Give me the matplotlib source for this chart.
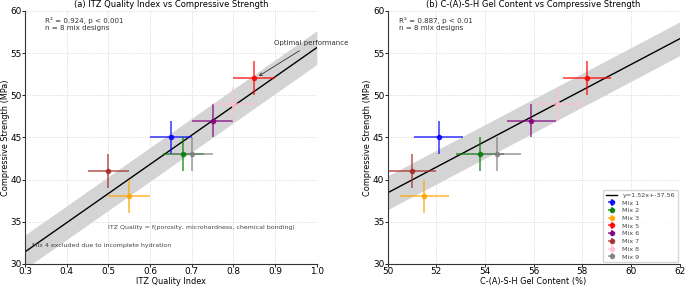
import numpy as np
import matplotlib
matplotlib.use('Agg')
import matplotlib.pyplot as plt

# mix designs (Mix 4 excluded)
mixes = ['Mix 1', 'Mix 2', 'Mix 3', 'Mix 5', 'Mix 6', 'Mix 7', 'Mix 8', 'Mix 9']
colors = ['blue', 'green', 'orange', 'red', 'purple', 'brown', 'pink', 'gray']
strength = [45, 43, 38, 52, 47, 41, 49, 43]
strength_err = [2, 2, 2, 2, 2, 2, 2, 2]
itz = [0.65, 0.68, 0.55, 0.85, 0.75, 0.50, 0.80, 0.70]
itz_err = [0.05, 0.05, 0.05, 0.05, 0.05, 0.05, 0.05, 0.05]
csh = [52.1, 53.8, 51.5, 58.2, 55.9, 51.0, 57.0, 54.5]
csh_err = [1.0, 1.0, 1.0, 1.0, 1.0, 1.0, 1.0, 1.0]
fit_b = [1.52, -37.56]
band = 2.0

plt.rcParams['font.family'] = 'DejaVu Sans'
fig = plt.figure(figsize=(6.85, 2.86), dpi=100)
ax1 = fig.add_axes([0.0365, 0.077, 0.426, 0.885])
ax2 = fig.add_axes([0.566, 0.077, 0.426, 0.885])

def style(ax):
    ax.spines['top'].set_visible(False)
    ax.spines['right'].set_visible(False)
    ax.spines['left'].set_color('#333333')
    ax.spines['bottom'].set_color('#333333')
    ax.grid(True, linestyle=':', color='#cccccc', linewidth=0.6)
    ax.set_axisbelow(True)
    ax.tick_params(labelsize=6.4, length=2, width=0.6, pad=0.5)
    ax.set_ylim(30, 60)
    ax.set_yticks([30, 35, 40, 45, 50, 55, 60])

# (a) ITZ
m, b = np.polyfit(itz, strength, 1)
xx = np.linspace(0.3, 1.0, 100)
ax1.fill_between(xx, m * xx + b - band, m * xx + b + band, color='#d4d4d4', lw=0, zorder=1)
ax1.plot(xx, m * xx + b, color='black', lw=1, zorder=2)
for i in range(len(mixes)):
    ax1.errorbar(itz[i], strength[i], xerr=itz_err[i], yerr=strength_err[i],
                 fmt='o', color=colors[i], ms=3, elinewidth=1.1, alpha=0.8, zorder=3)
ax1.set_xlim(0.3, 1.0)
style(ax1)
ax1.set_xlabel('ITZ Quality Index', fontsize=5.9, labelpad=0.5)
ax1.set_ylabel('Compressive Strength (MPa)', fontsize=5.9, labelpad=0.5)
ax1.set_title('(a) ITZ Quality Index vs Compressive Strength', fontsize=6, pad=2.5)
ax1.text(0.068, 0.975, 'R² = 0.924, p < 0.001\nn = 8 mix designs', transform=ax1.transAxes,
         fontsize=5.1, va='top', color='#333333')
ax1.annotate('Optimal performance', xy=(0.855, 52.1), xytext=(0.897, 55.9), fontsize=5,
             color='#333333', annotation_clip=False,
             arrowprops=dict(arrowstyle='->', color='#333333', lw=0.6))
ax1.text(0.5, 34.3, 'ITZ Quality = f(porosity, microhardness, chemical bonding)',
         fontsize=4.5, va='center', color='#444444')
ax1.text(0.317, 32.2, 'Mix 4 excluded due to incomplete hydration',
         fontsize=4.5, va='center', color='#444444')

# (b) C-(A)-S-H
xx = np.linspace(50, 62, 100)
yy = fit_b[0] * xx + fit_b[1]
ax2.fill_between(xx, yy - band, yy + band, color='#d4d4d4', lw=0, zorder=1)
ax2.plot(xx, yy, color='black', lw=1, zorder=2,
         label='y={:.2f}x+{:.2f}'.format(fit_b[0], fit_b[1]))
for i in range(len(mixes)):
    ax2.errorbar(csh[i], strength[i], xerr=csh_err[i], yerr=strength_err[i],
                 fmt='o', color=colors[i], ms=3, elinewidth=1.1, alpha=0.8, zorder=3,
                 label=mixes[i])
ax2.set_xlim(50, 62)
ax2.set_xticks([50, 52, 54, 56, 58, 60, 62])
style(ax2)
ax2.set_xlabel('C-(A)-S-H Gel Content (%)', fontsize=5.9, labelpad=0.5)
ax2.set_ylabel('Compressive Strength (MPa)', fontsize=5.9, labelpad=0.5)
ax2.set_title('(b) C-(A)-S-H Gel Content vs Compressive Strength', fontsize=6, pad=2.5)
ax2.text(0.038, 0.975, 'R² = 0.887, p < 0.01\nn = 8 mix designs', transform=ax2.transAxes,
         fontsize=5.1, va='top', color='#333333')
leg = ax2.legend(loc='lower right', fontsize=4.6, frameon=True, borderpad=0.4,
                 labelspacing=0.35, handlelength=1.8, borderaxespad=0.3)
for t in leg.get_texts():
    t.set_color('#444444')

fig.savefig('out.png', dpi=100)
plt.close()
